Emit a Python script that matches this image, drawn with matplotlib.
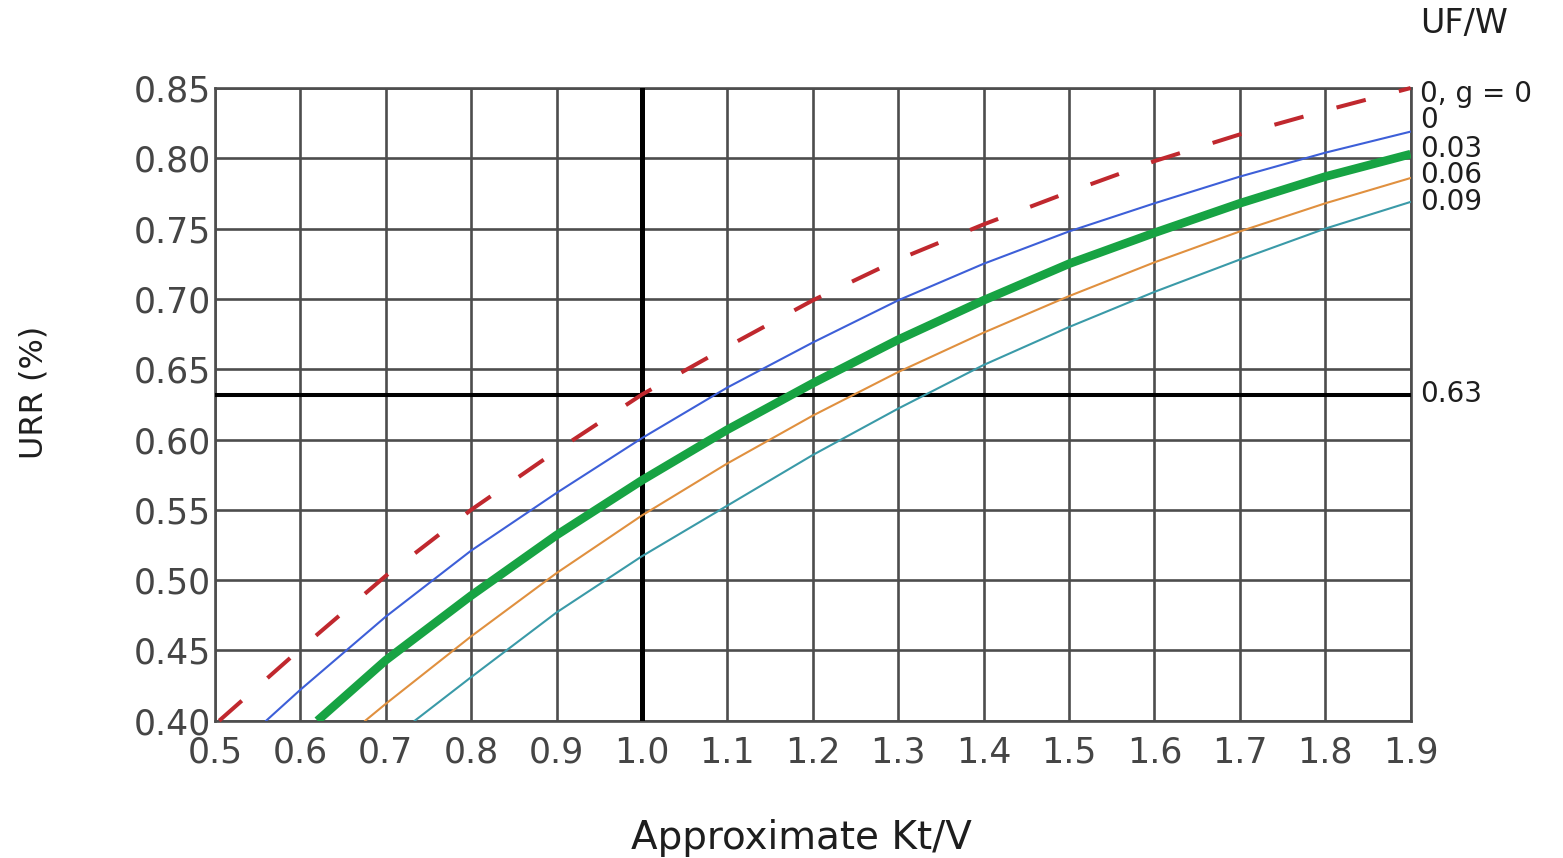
import matplotlib
matplotlib.use("Agg")
import matplotlib.pyplot as plt
import numpy as np

# values (URR at each Kt/V)
ktv_grid = [0.6, 0.7, 0.8, 0.9, 1.0, 1.1, 1.2, 1.3, 1.4, 1.5, 1.6, 1.7, 1.8, 1.9]

red_x = [0.505] + ktv_grid
red_y = [0.400, 0.451, 0.503, 0.550, 0.592, 0.632, 0.666, 0.699, 0.728, 0.753, 0.776, 0.798, 0.817, 0.834, 0.850]

blue_x = [0.56] + ktv_grid
blue_y = [0.400, 0.422, 0.474, 0.521, 0.562, 0.601, 0.637, 0.669, 0.699, 0.725, 0.748, 0.768, 0.787, 0.804, 0.819]

green_x = [0.62] + ktv_grid[1:]
green_y = [0.400, 0.443, 0.489, 0.532, 0.571, 0.607, 0.640, 0.671, 0.699, 0.725, 0.747, 0.768, 0.787, 0.803]

orange_x = [0.676] + ktv_grid[1:]
orange_y = [0.400, 0.412, 0.460, 0.505, 0.546, 0.583, 0.617, 0.648, 0.676, 0.702, 0.726, 0.748, 0.768, 0.786]

teal_x = [0.734] + ktv_grid[2:]
teal_y = [0.400, 0.431, 0.477, 0.517, 0.553, 0.589, 0.622, 0.653, 0.680, 0.705, 0.728, 0.750, 0.769]

curve_labels = ["0, g = 0", "0", "0.03", "0.06", "0.09"]
target_ktv = 1.0
target_urr = 0.632

# layout of the right-hand labels (baseline, data units)
label_base = [0.840, 0.8216, 0.8009, 0.7824, 0.7632]

text_col = "#454545"
dark = "#1e1e1e"

fig = plt.figure(figsize=(15.63, 8.58), dpi=100)
ax = fig.add_axes([0.1375, 0.16, 0.765, 0.7374])

# curves
ax.plot(red_x, red_y, color="#c0282e", lw=2.9, dashes=(7.5, 8.5), zorder=4, clip_on=False)
ax.plot(blue_x, blue_y, color="#3d5fd8", lw=1.5, zorder=4)
ax.plot(green_x, green_y, color="#17a343", lw=6.2, zorder=5, solid_capstyle="butt")
ax.plot(orange_x, orange_y, color="#e0903f", lw=1.5, zorder=4)
ax.plot(teal_x, teal_y, color="#3a9aa8", lw=1.5, zorder=4)

# reference lines
ax.axvline(target_ktv, color="black", lw=3.6, zorder=3)
ax.axhline(target_urr, color="black", lw=2.9, zorder=3)

# axes, grid
xt = np.arange(0.5, 1.91, 0.1)
yt = np.arange(0.40, 0.851, 0.05)
ax.set_xlim(0.5, 1.9)
ax.set_ylim(0.40, 0.85)
ax.set_xticks(xt)
ax.set_yticks(yt)
ax.set_xticklabels(["%.1f" % v for v in xt])
ax.set_yticklabels(["%.2f" % v for v in yt])
ax.grid(True, color="#4d4d4d", lw=1.9, zorder=1)
for s in ax.spines.values():
    s.set_color("#4d4d4d")
    s.set_linewidth(1.9)
ax.tick_params(length=0, labelsize=25, labelcolor=text_col)
ax.tick_params(axis="x", pad=11)
ax.tick_params(axis="y", pad=3)

fig.text(801 / 1563, 1 - 838 / 858, "Approximate Kt/V", fontsize=28, color=dark,
         ha="center", va="center")
fig.text(34 / 1563, 1 - 392 / 858, "URR (%)", fontsize=23, color=dark,
         ha="center", va="center", rotation=90)

# right side labels
for lab, yb in zip(curve_labels, label_base):
    ax.text(1.911, yb, lab, fontsize=20, color=dark, va="baseline", ha="left")
ax.text(1.911, 0.6267, "0.63", fontsize=20, color=dark, va="baseline", ha="left")
fig.text(1420 / 1563, 1 - 24 / 858, "UF/W", fontsize=24, color=dark, va="center", ha="left")

fig.savefig("out.png", dpi=100, facecolor="white")
